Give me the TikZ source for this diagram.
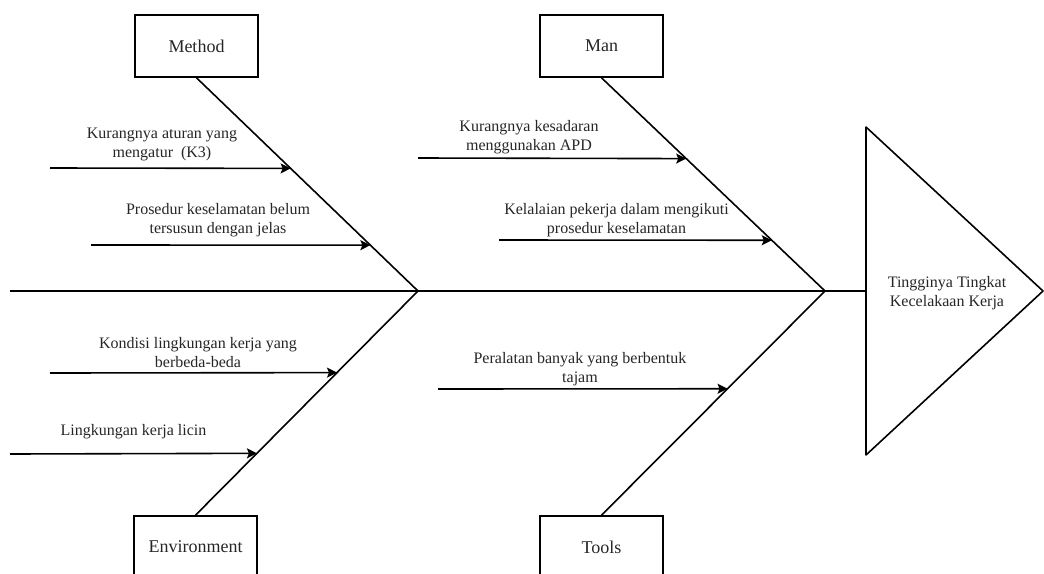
\documentclass[tikz,border=0pt]{standalone}
\usepackage{fontspec}
\setmainfont{LiberationSerif}[Extension=.ttf,UprightFont=*-Regular]
\usetikzlibrary{calc,arrows.meta}
\begin{document}
\begin{tikzpicture}[x=1pt,y=-1pt,
  bone/.style={line width=1.6pt,draw=black},
  catfont/.style={font=\fontsize{18}{21}\selectfont,text=black!85},
  cat/.style={draw=black,line width=1.6pt,minimum width=123pt,minimum height=62pt,inner sep=0pt,catfont},
  cause/.style={align=center,font=\fontsize{16}{19}\selectfont,text=black!85,inner sep=0pt},
  arr/.style={line width=1.6pt,-{Stealth[length=10pt,width=10pt,inset=2pt]}}]
\useasboundingbox (0,0) rectangle (1044,573);
\clip (0,0) rectangle (1044,573);
% category boxes
\node[cat] (method) at (196.5,46) {Method};
\node[cat] (man) at (601.5,46) {Man};
\node[cat] (env) at (195.5,547) {};
\node[catfont] (envt) at (195.5,547) {Environment};
\node[cat] (tools) at (601.5,547) {};
\node[catfont] (toolst) at (601.5,547) {Tools};
% spine
\coordinate (tail) at (10,291);
\coordinate (j1) at (418,291);
\coordinate (j2) at (825,291);
\coordinate (hl) at (866,291);
\coordinate (ht) at (866,127);
\coordinate (hb) at (866,455);
\coordinate (hp) at (1043,291);
\draw[bone,line join=round] (ht) -- (hp) -- (hb) -- cycle;
\node[cause] (effect) at (947,293) {Tingginya Tingkat\\Kecelakaan Kerja};
\draw[bone] (tail) -- (j1) -- (j2) -- (hl);
% bones
\draw[bone] (method.south) -- (j1);
\draw[bone] (env.north) -- (j1);
\draw[bone] (man.south) -- (j2);
\draw[bone] (tools.north) -- (j2);
% causes: method
\coordinate (a1) at (50,168);
\draw[arr] (a1) -- ($(method.south)!0.425!(j1)$);
\node[cause] (t1) at (162,144.5) {Kurangnya aturan yang\\mengatur~ (K3)};
\coordinate (a2) at (91,245);
\draw[arr] (a2) -- ($(method.south)!0.785!(j1)$);
\node[cause] (t2) at (218,220.5) {Prosedur keselamatan belum\\tersusun dengan jelas};
% causes: man
\coordinate (a3) at (418,158);
\draw[arr] (a3) -- ($(man.south)!0.379!(j2)$);
\node[cause] (t3) at (529,137.5) {Kurangnya kesadaran\\menggunakan APD};
\coordinate (a4) at (499,240);
\draw[arr] (a4) -- ($(man.south)!0.762!(j2)$);
\node[cause] (t4) at (616.5,220.5) {Kelalaian pekerja dalam mengikuti\\prosedur keselamatan};
% causes: environment
\coordinate (a5) at (50,373);
\draw[arr] (a5) -- ($(env.north)!0.636!(j1)$);
\node[cause] (t5) at (198,352.5) {Kondisi lingkungan kerja yang\\berbeda-beda};
\coordinate (a6) at (10,454);
\draw[arr] (a6) -- ($(env.north)!0.276!(j1)$);
\node[cause] (t6) at (133.5,432) {Lingkungan kerja licin};
% causes: tools
\coordinate (a7) at (438,389);
\draw[arr] (a7) -- ($(tools.north)!0.564!(j2)$);
\node[cause] (t7) at (580,369.5) {Peralatan banyak yang berbentuk\\tajam};
\end{tikzpicture}
\end{document}
